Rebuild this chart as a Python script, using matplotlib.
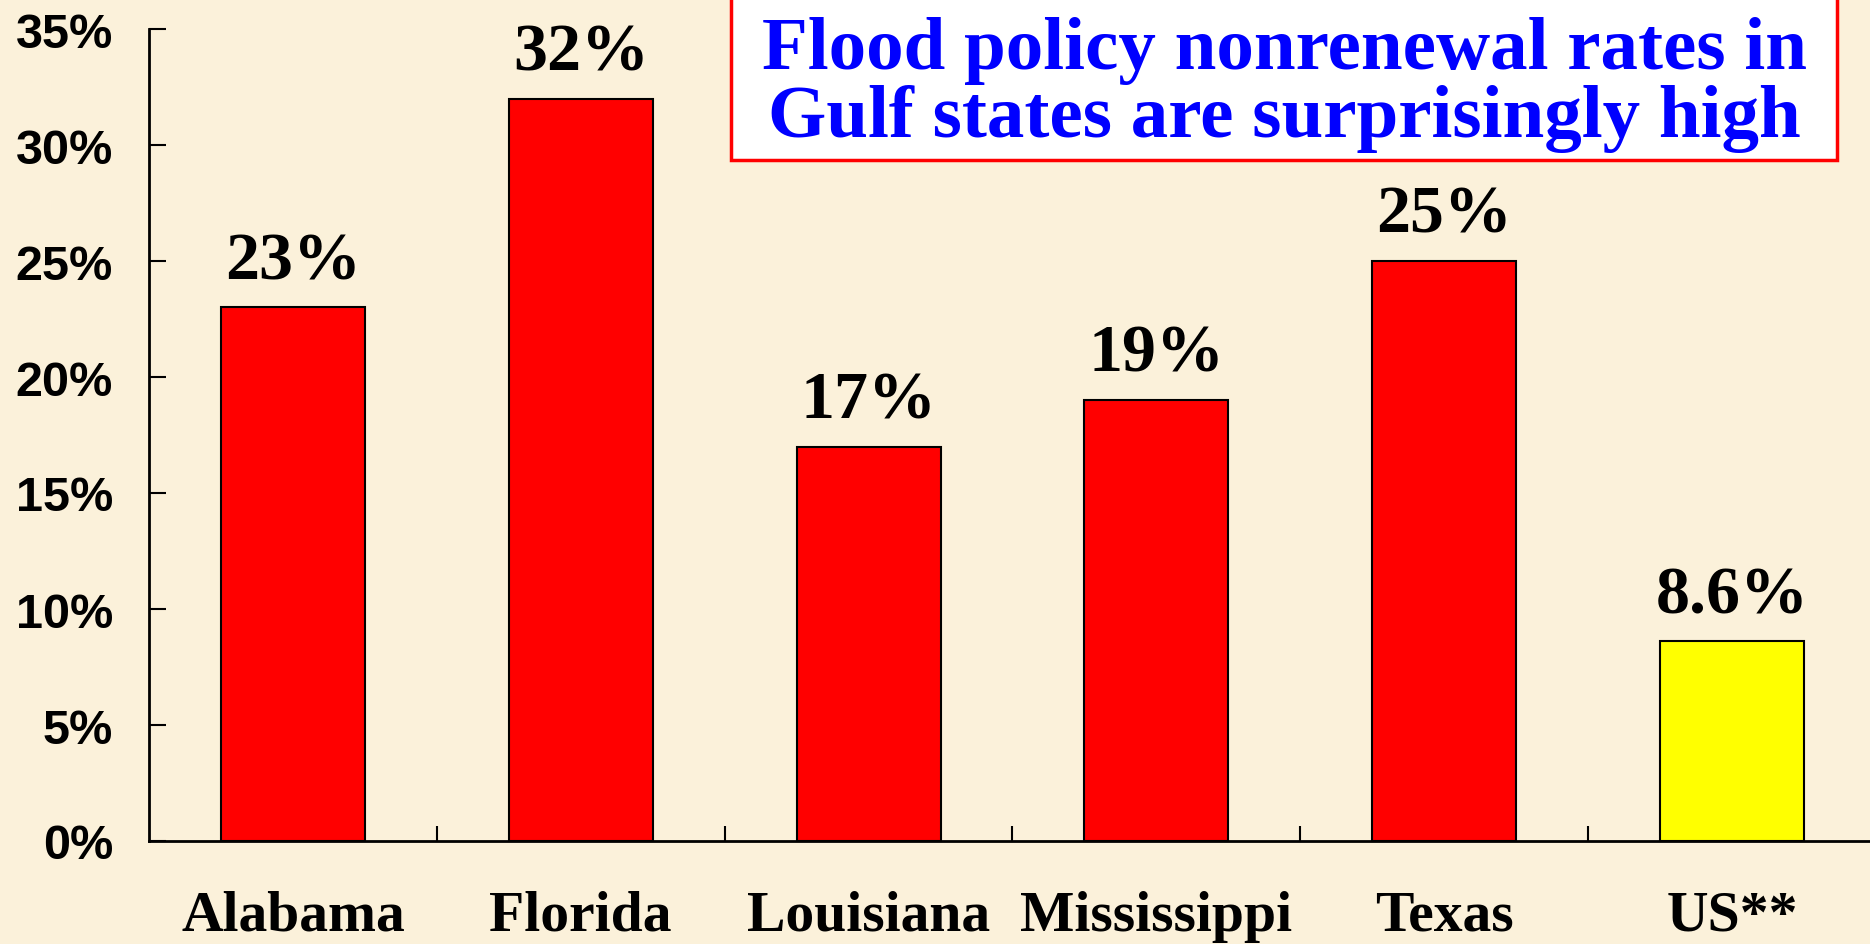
import matplotlib
matplotlib.use("Agg")
import matplotlib.pyplot as plt
from matplotlib.patches import Rectangle
import numpy as np

categories = ["Alabama", "Florida", "Louisiana", "Mississippi", "Texas", "US**"]
values = [23, 32, 17, 19, 25, 8.6]
value_labels = ["23%", "32%", "17%", "19%", "25%", "8.6%"]
bar_colors = ["#FF0000", "#FF0000", "#FF0000", "#FF0000", "#FF0000", "#FFFF00"]
yticks = [0, 5, 10, 15, 20, 25, 30, 35]
ytick_labels = ["0%", "5%", "10%", "15%", "20%", "25%", "30%", "35%"]
title_lines = ["Flood policy nonrenewal rates in", "Gulf states are surprisingly high"]

bg = "#FBF1DA"
W, H = 1870, 945
fig = plt.figure(figsize=(W / 100, H / 100), dpi=100, facecolor=bg)

left_px, right_px = 149, 1876
bottom_px, top_px = 842, 30
ax = fig.add_axes([left_px / W, (H - bottom_px) / H,
                   (right_px - left_px) / W, (bottom_px - top_px) / H])
ax.set_facecolor(bg)
ax.patch.set_alpha(0)

x = np.arange(len(categories))
ax.bar(x, values, width=0.5, color=bar_colors, edgecolor="black", linewidth=1.5, zorder=3)

ax.set_xlim(-0.5, len(categories) - 0.5)
ax.set_ylim(0, 35)

for s in ["top", "right"]:
    ax.spines[s].set_visible(False)
for s in ["left", "bottom"]:
    ax.spines[s].set_linewidth(2)
    ax.spines[s].set_color("black")

ax.set_yticks(yticks)
ax.set_yticklabels(ytick_labels, fontfamily="Liberation Sans", fontweight="bold", fontsize=35)
ax.tick_params(axis="y", direction="in", length=12, width=1.5, pad=26)

ax.set_xticks(x)
ax.set_xticklabels(categories, fontfamily="Liberation Serif", fontweight="bold", fontsize=41.5)
ax.tick_params(axis="x", which="major", length=0, pad=35)
ax.set_xticks(x[:-1] + 0.5, minor=True)
ax.tick_params(axis="x", which="minor", direction="in", length=11, width=1.5)

for xi, v, lab in zip(x, values, value_labels):
    ax.annotate(lab, (xi, v), xytext=(0, 11), textcoords="offset points",
                ha="center", va="bottom", fontfamily="Liberation Serif",
                fontweight="bold", fontsize=49, color="black", zorder=4)

# Title box
bx0, bx1, by1 = 731, 1837, 161
rect = Rectangle((bx0 / W, (H - by1) / H), (bx1 - bx0) / W, by1 / H + 0.05,
                 transform=fig.transFigure, facecolor="white", edgecolor="#FF0000",
                 linewidth=2.5, zorder=5, clip_on=False)
fig.patches.append(rect)
cx = (bx0 + bx1) / 2 / W
for line, base in zip(title_lines, [69, 137]):
    fig.text(cx, (H - base) / H, line, ha="center", va="baseline",
             fontfamily="Liberation Serif", fontweight="bold", fontsize=54,
             color="#0000FF", zorder=6)

fig.savefig("out.png", dpi=100, facecolor=bg)
